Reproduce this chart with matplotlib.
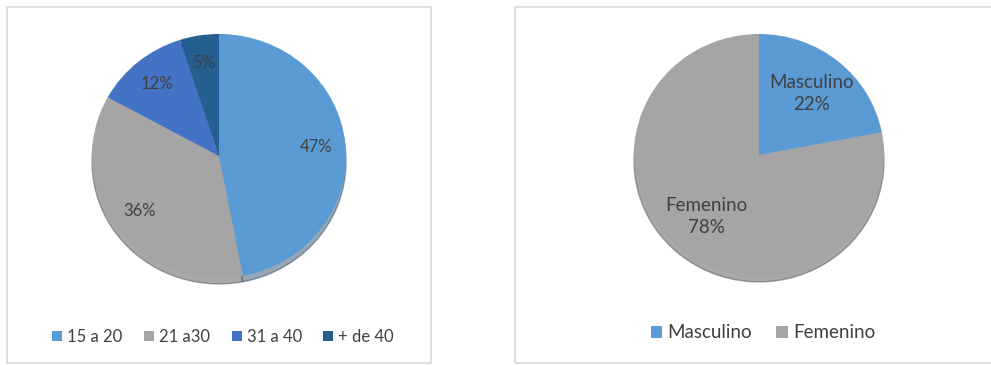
import matplotlib.pyplot as plt
from matplotlib.patches import Rectangle

plt.rcParams['font.family'] = ['Lato', 'DejaVu Sans']

# Datos: edades
edad_labels = ['15 a 20', '21 a30', '31 a 40', '+ de 40']
edad_values = [47, 36, 12, 5]
edad_colors = ['#5B9BD5', '#A5A5A5', '#4472C4', '#255E91']

# Datos: sexo
sexo_labels = ['Masculino', 'Femenino']
sexo_values = [22, 78]
sexo_colors = ['#5B9BD5', '#A5A5A5']

text_color = '#404040'
W, H = 991, 365
LIM = 1.06

fig = plt.figure(figsize=(W / 100, H / 100), dpi=100)
fig.patch.set_facecolor('white')

# marcos de los graficos
for x0, y0, x1, y1 in [(7, 7, 431, 363), (515, 7, 995, 363)]:
    fig.patches.append(Rectangle((x0 / W, 1 - y1 / H), (x1 - x0) / W, (y1 - y0) / H,
                                 transform=fig.transFigure, facecolor='none',
                                 edgecolor='#D9D9D9', linewidth=1.2, zorder=-1))

shadow = {'ox': 0.0, 'oy': -0.035, 'shade': 0.5}


def pie_axes(cx, cy, rx, ry):
    sx, sy = rx * LIM, ry * LIM
    return fig.add_axes([(cx - sx) / W, 1 - (cy + sy) / H, 2 * sx / W, 2 * sy / H])


# grafico de edades
ax1 = pie_axes(219, 156, 127, 122)
wedges1, _, pct1 = ax1.pie(edad_values, colors=edad_colors, startangle=90, counterclock=False,
                           autopct='%1.0f%%', pctdistance=0.77, shadow=shadow,
                           textprops={'color': text_color, 'fontsize': 12})
ax1.set_aspect('auto')
ax1.set_xlim(-LIM, LIM)
ax1.set_ylim(-LIM, LIM)
ax1.legend(wedges1, edad_labels, loc='center', bbox_to_anchor=(223 / W, 1 - 337 / H),
           bbox_transform=fig.transFigure, ncol=4, frameon=False, fontsize=12,
           handlelength=0.6, handleheight=0.6, handletextpad=0.3, columnspacing=1.3,
           labelcolor=text_color)

# grafico de sexo
ax2 = pie_axes(759, 155, 125, 121)
wedges2, _, pct2 = ax2.pie(sexo_values, colors=sexo_colors, startangle=90, counterclock=False,
                           autopct='%1.0f%%', pctdistance=0.66, shadow=shadow,
                           textprops={'color': text_color, 'fontsize': 13.5,
                                      'ha': 'center', 'linespacing': 1.4})
for t, lab in zip(pct2, sexo_labels):
    t.set_text(lab + '\n' + t.get_text())
ax2.set_aspect('auto')
ax2.set_xlim(-LIM, LIM)
ax2.set_ylim(-LIM, LIM)
ax2.legend(wedges2, sexo_labels, loc='center', bbox_to_anchor=(763 / W, 1 - 333 / H),
           bbox_transform=fig.transFigure, ncol=2, frameon=False, fontsize=13.5,
           handlelength=0.6, handleheight=0.6, handletextpad=0.3, columnspacing=1.3,
           labelcolor=text_color)

fig.savefig('out.png', dpi=100)
